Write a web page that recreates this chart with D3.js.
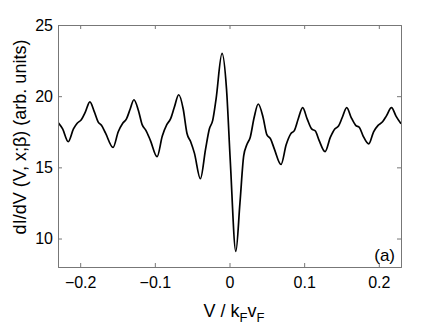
<!DOCTYPE html>
<html>
<head>
<meta charset="utf-8">
<script src="https://cdn.jsdelivr.net/npm/d3@7"></script>
<style>
  body { margin: 0; background: #fff; }
  text { font-family: "Liberation Sans", Arial, sans-serif; fill: #000; }
</style>
</head>
<body>
<svg id="chart" width="443" height="333"></svg>
<script>
// bias values (V / kF vF)
var voltage = [
  -0.2295, -0.2235, -0.2160, -0.2090, -0.2040, -0.1985, -0.1930, -0.1870,
  -0.1810, -0.1760, -0.1715, -0.1660, -0.1560, -0.1490, -0.1430, -0.1380,
  -0.1330, -0.1280, -0.1220, -0.1170, -0.1120, -0.1060, -0.0970, -0.0900,
  -0.0840, -0.0790, -0.0740, -0.0680, -0.0620, -0.0570, -0.0520, -0.0470,
  -0.0390, -0.0320, -0.0270, -0.0225, -0.0180, -0.0100, -0.0040, 0.0010,
  0.0085, 0.0140, 0.0190, 0.0233, 0.0277, 0.0330, 0.0385, 0.0450,
  0.0500, 0.0550, 0.0600, 0.0690, 0.0760, 0.0820, 0.0870, 0.0920,
  0.0980, 0.1040, 0.1100, 0.1150, 0.1200, 0.1280, 0.1350, 0.1410,
  0.1460, 0.1510, 0.1570, 0.1630, 0.1690, 0.1740, 0.1790, 0.1865,
  0.1930, 0.1990, 0.2050, 0.2100, 0.2170, 0.2230, 0.2298
];
// dI/dV (arb. units)
var conductance = [
  18.15, 17.7, 16.8, 17.7, 18.1, 18.35, 18.9, 19.6,
  18.9, 18.2, 17.95, 17.4, 16.4, 17.5, 18.1, 18.4,
  19.1, 19.75, 19.0, 18.0, 17.6, 16.9, 15.75, 17.2,
  18.0, 18.4, 19.2, 20.1, 19.1, 17.4, 16.8, 16.0,
  14.2, 16.3, 17.7, 18.3, 19.8, 23.0, 20.5, 15.5,
  9.1, 12.5, 15.8, 16.6, 17.1, 18.5, 19.45, 18.5,
  17.3, 17.0, 16.3, 15.2, 16.6, 17.35, 17.6, 18.4,
  19.2, 18.4, 17.7, 17.55, 16.9, 16.1, 17.1, 17.7,
  17.9, 18.5, 19.2, 18.5, 17.95, 17.8, 17.2, 16.65,
  17.5, 17.95, 18.2, 18.6, 19.2, 18.6, 18.06
];
var xTicks = [-0.2, -0.1, 0, 0.1, 0.2];
var xTickLabels = ["\u22120.2", "\u22120.1", "0", "0.1", "0.2"];
var yTicks = [10, 15, 20, 25];

var svg = d3.select("#chart");
var mLeft = 58, mRight = 401, mTop = 25, mBottom = 267;

var x = d3.scaleLinear().domain([-0.2297, 0.2297]).range([mLeft, mRight]);
var y = d3.scaleLinear().domain([8, 25]).range([mBottom, mTop]);

var pts = voltage.map(function(v, i) { return [v, conductance[i]]; });

svg.append("defs").append("clipPath").attr("id", "clip")
  .append("rect").attr("x", mLeft).attr("y", mTop)
  .attr("width", mRight - mLeft).attr("height", mBottom - mTop);

var line = d3.line()
  .x(function(d) { return x(d[0]); })
  .y(function(d) { return y(d[1]); })
  .curve(d3.curveMonotoneX);

svg.append("path")
  .datum(pts)
  .attr("clip-path", "url(#clip)")
  .attr("fill", "none")
  .attr("stroke", "#000")
  .attr("stroke-width", 1.7)
  .attr("d", line);

// axes, ticks pointing inward like matlab
var tickLen = 4;
var fmt = function(d) { return xTickLabels[xTicks.indexOf(d)]; };

svg.append("g").attr("transform", "translate(0," + mBottom + ")")
  .call(d3.axisBottom(x).tickValues(xTicks).tickSize(-tickLen).tickPadding(10).tickFormat(fmt))
  .call(function(g) { g.selectAll("text").attr("font-size", 16).attr("dy", "0.71em"); });

svg.append("g").attr("transform", "translate(0," + mTop + ")")
  .call(d3.axisTop(x).tickValues(xTicks).tickSize(-tickLen).tickFormat(""));

svg.append("g").attr("transform", "translate(" + mLeft + ",0)")
  .call(d3.axisLeft(y).tickValues(yTicks).tickSize(-tickLen).tickPadding(5))
  .call(function(g) { g.selectAll("text").attr("font-size", 16); });

svg.append("g").attr("transform", "translate(" + mRight + ",0)")
  .call(d3.axisRight(y).tickValues(yTicks).tickSize(-tickLen).tickFormat(""));

svg.selectAll(".domain").attr("stroke", "#777").attr("stroke-width", 1);
svg.selectAll(".tick line").attr("stroke", "#777");
svg.selectAll(".tick text").attr("fill", "#000").attr("font-family", "Liberation Sans, Arial, sans-serif");

// labels
var xl = svg.append("text").attr("x", 234).attr("y", 317)
  .attr("text-anchor", "middle").attr("font-size", 18);
xl.append("tspan").text("V / k");
xl.append("tspan").attr("font-size", 13).attr("dy", 5).text("F");
xl.append("tspan").attr("dy", -5).text("v");
xl.append("tspan").attr("font-size", 13).attr("dy", 5).text("F");

svg.append("text")
  .attr("transform", "translate(26,137) rotate(-90)")
  .attr("text-anchor", "middle").attr("font-size", 18)
  .text("dI/dV (V, x;\u03b2) (arb. units)");

svg.append("text").attr("x", 395).attr("y", 261)
  .attr("text-anchor", "end").attr("font-size", 17).text("(a)");
</script>
</body>
</html>
